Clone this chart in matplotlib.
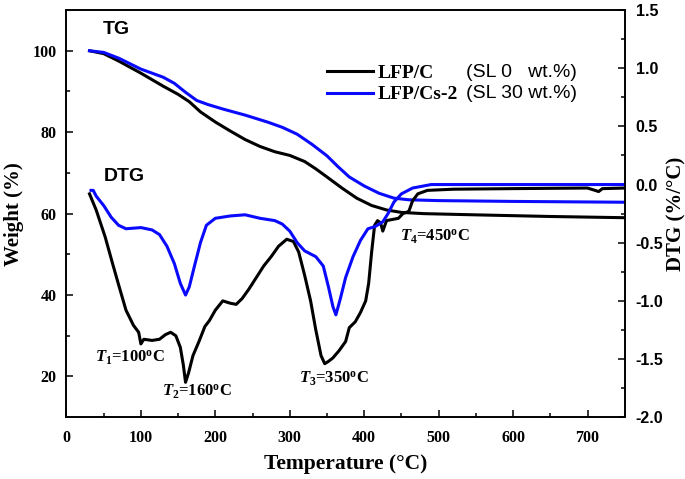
import matplotlib
matplotlib.use('Agg')
import matplotlib.pyplot as plt
from matplotlib.ticker import MultipleLocator

plt.rcParams['mathtext.fontset'] = 'custom'
plt.rcParams['mathtext.it'] = 'Liberation Serif:italic:bold'
plt.rcParams['mathtext.rm'] = 'Liberation Serif:bold'

SERIF = 'Liberation Serif'
SANS = 'Liberation Sans'

# TG curves (weight %)
tg_c_x = [31, 50, 70, 100, 130, 150, 165, 180, 200, 220, 240, 260, 280, 300, 320, 335,
          350, 370, 390, 410, 430, 450, 480, 550, 650, 750]
tg_c_y = [100, 99.3, 97.5, 94.5, 91.3, 89.3, 87.5, 85, 82.5, 80.3, 78.2, 76.5, 75.2, 74.3,
          72.8, 71, 69, 66.3, 63.8, 62, 60.9, 60.3, 60, 59.7, 59.3, 59.0]

tg_s_x = [31, 50, 70, 100, 130, 145, 160, 175, 190, 210, 240, 270, 290, 310, 330, 350,
          365, 380, 400, 420, 440, 460, 500, 600, 750]
tg_s_y = [100, 99.6, 98.2, 95.5, 93.5, 92, 89.8, 87.8, 86.8, 85.7, 84.2, 82.5, 81.2, 79.5,
          77, 74.2, 71.5, 69, 66.8, 65, 63.8, 63.4, 63.2, 63.0, 62.8]

# DTG curves (%/C)
dtg_c_x = [31, 40, 52, 62, 70, 80, 90, 97, 100, 104, 115, 125, 133, 140, 147, 153, 157,
           160, 164, 170, 178, 186, 192, 200, 210, 220, 228, 236, 245, 255, 265, 275, 285,
           296, 305, 312, 320, 328, 335, 342, 347, 352, 358, 366, 375, 380, 388, 395, 402,
           406, 410, 414, 418, 422, 425, 430, 438, 446, 452, 460, 465, 472, 485, 520, 600,
           700, 715, 720, 750]
dtg_c_y = [-0.08, -0.22, -0.45, -0.68, -0.86, -1.08, -1.21, -1.27, -1.37, -1.33, -1.34,
           -1.33, -1.29, -1.27, -1.30, -1.40, -1.55, -1.70, -1.62, -1.47, -1.35, -1.22,
           -1.17, -1.08, -1.00, -1.02, -1.03, -0.98, -0.90, -0.80, -0.70, -0.62, -0.53,
           -0.47, -0.49, -0.58, -0.78, -1.00, -1.25, -1.47, -1.54, -1.52, -1.49, -1.43,
           -1.35, -1.23, -1.18, -1.10, -1.00, -0.85, -0.58, -0.35, -0.31, -0.33, -0.40,
           -0.31, -0.30, -0.29, -0.25, -0.23, -0.14, -0.08, -0.05, -0.04, -0.035, -0.03,
           -0.06, -0.035, -0.03]

dtg_s_x = [33, 36, 40, 50, 60, 70, 80, 100, 115, 125, 135, 145, 153, 160, 165, 172, 180,
           188, 200, 220, 240, 260, 280, 290, 300, 310, 320, 335, 345, 352, 358, 362, 368,
           375, 385, 395, 405, 415, 425, 432, 440, 450, 465, 490, 600, 750]
dtg_s_y = [-0.05, -0.05, -0.10, -0.18, -0.28, -0.35, -0.38, -0.37, -0.39, -0.43, -0.53,
           -0.68, -0.85, -0.95, -0.88, -0.70, -0.50, -0.35, -0.29, -0.27, -0.26, -0.29,
           -0.31, -0.34, -0.40, -0.50, -0.57, -0.62, -0.70, -0.88, -1.05, -1.12, -0.98,
           -0.80, -0.62, -0.48, -0.38, -0.36, -0.32, -0.25, -0.15, -0.08, -0.03, 0.0,
           0.0, 0.0]

names = ['LFP/C', 'LFP/Cs-2']
loadings = ['(SL 0   wt.%)', '(SL 30 wt.%)']
peaks = [(r'$T_{1}$=100$^{\mathrm{o}}$C', 39, 24.7),
         (r'$T_{2}$=160$^{\mathrm{o}}$C', 128, 16.2),
         (r'$T_{3}$=350$^{\mathrm{o}}$C', 312, 19.4),
         (r'$T_{4}$=450$^{\mathrm{o}}$C', 448, 54.4)]

fig = plt.figure(figsize=(6.85, 4.79), dpi=100)
ax = fig.add_axes([0.097, 0.129, 0.815, 0.850])
ax2 = ax.twinx()

l1, = ax.plot(tg_c_x, tg_c_y, color='black', lw=2.2)
l2, = ax.plot(tg_s_x, tg_s_y, color='#0a0aff', lw=2.2)
ax2.plot(dtg_c_x, dtg_c_y, color='black', lw=2.2)
ax2.plot(dtg_s_x, dtg_s_y, color='#0a0aff', lw=2.2)

ax.set_xlim(0, 750)
ax.set_ylim(10, 110)
ax2.set_ylim(-2.0, 1.5)

ax.xaxis.set_major_locator(MultipleLocator(100))
ax.xaxis.set_minor_locator(MultipleLocator(50))
ax.yaxis.set_major_locator(MultipleLocator(20))
ax.yaxis.set_minor_locator(MultipleLocator(10))
ax2.yaxis.set_major_locator(MultipleLocator(0.5))
ax2.yaxis.set_minor_locator(MultipleLocator(0.25))

for a in (ax, ax2):
    a.tick_params(which='major', direction='in', length=5, width=1.1)
    a.tick_params(which='minor', direction='in', length=3, width=1.1)
    for s in a.spines.values():
        s.set_linewidth(1.2)
ax.tick_params(axis='x', which='major', pad=9)
ax.tick_params(axis='y', which='major', pad=7)
ax2.tick_params(axis='y', which='major', pad=8)

for lab in ax.get_xticklabels() + ax.get_yticklabels():
    lab.set_fontfamily(SERIF)
    lab.set_fontweight('bold')
    lab.set_fontsize(11.5)
for lab in ax2.get_yticklabels():
    lab.set_fontfamily(SANS)
    lab.set_fontweight('bold')
    lab.set_fontsize(11.5)
ax2.yaxis.set_major_formatter(matplotlib.ticker.FormatStrFormatter('%.1f'))

ax.set_xlabel('Temperature (°C)', fontfamily=SERIF, fontweight='bold', fontsize=15.5,
              labelpad=6)
ax.set_ylabel('Weight (%)', fontfamily=SERIF, fontweight='bold', fontsize=15, labelpad=6)
ax2.set_ylabel('DTG (%/°C)', fontfamily=SERIF, fontweight='bold', fontsize=15, labelpad=2)

ax.text(49, 105.3, 'TG', fontfamily=SANS, fontweight='bold', fontsize=14, va='center')
ax.text(50, 69.1, 'DTG', fontfamily=SANS, fontweight='bold', fontsize=14, va='center')

for txt, px, py in peaks:
    ax.text(px, py, txt, fontfamily=SERIF, fontweight='bold', fontsize=12, va='center')

leg = ax.legend([l1, l2], names, loc='upper left', bbox_to_anchor=(0.466, 0.866),
                frameon=False, borderpad=0, borderaxespad=0, handlelength=2.4,
                handletextpad=0.25, labelspacing=0.18,
                prop={'family': SERIF, 'weight': 'bold', 'size': 14})
for txt, yy in zip(loadings, [94.7, 89.4]):
    ax.text(537, yy, txt, fontfamily=SANS, fontsize=14, va='center')

fig.savefig('out.png', dpi=100)
